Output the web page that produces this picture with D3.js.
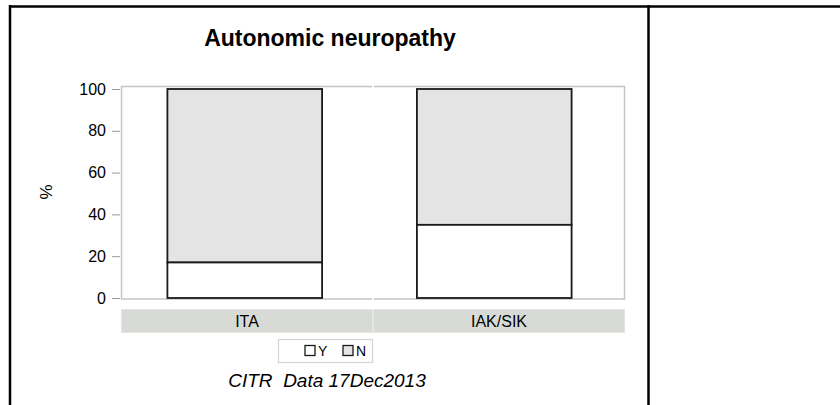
<!DOCTYPE html>
<html>
<head>
<meta charset="utf-8">
<script src="https://cdn.jsdelivr.net/npm/d3@7"></script>
<style>
  body { margin: 0; background: #fff; }
  text { font-family: "Liberation Sans", Arial, sans-serif; fill: #000; }
</style>
</head>
<body>
<div id="chart"></div>
<script>
// data
const groups = ["ITA", "IAK/SIK"];
const yesPct = [17, 35];
const noPct = [83, 65];
const responses = ["Y", "N"];
const yTicks = [0, 20, 40, 60, 80, 100];

const svgWidth = 840, svgHeight = 405;

const svg = d3.select("#chart")
    .append("svg")
    .attr("width", svgWidth)
    .attr("height", svgHeight);

// table lines round the chart
svg.append("line").attr("x1", 9).attr("x2", 840).attr("y1", 6.5).attr("y2", 6.5)
    .attr("stroke", "#000").attr("stroke-width", 2.5);
svg.append("line").attr("x1", 10).attr("x2", 10).attr("y1", 5).attr("y2", 405)
    .attr("stroke", "#000").attr("stroke-width", 2.5);
svg.append("line").attr("x1", 648.5).attr("x2", 648.5).attr("y1", 5).attr("y2", 405)
    .attr("stroke", "#000").attr("stroke-width", 2.5);

svg.append("text")
    .attr("x", 330).attr("y", 46)
    .attr("text-anchor", "middle")
    .attr("font-size", 23)
    .attr("font-weight", "bold")
    .text("Autonomic neuropathy");

const plotLeft = 121, plotRight = 625, plotTop = 86, plotBottom = 299;

const panel = d3.scaleBand().domain(groups).range([plotLeft, plotRight]);
const x = d3.scaleBand().domain(groups).range([120, 619])
    .paddingInner(0.38).paddingOuter(0.19);
const y = d3.scaleLinear().domain([0, 100]).range([298, 89]);

// panel frame: outer edges only, a small break between the panels
const frame = svg.append("g")
    .attr("fill", "none")
    .attr("stroke", "#c4c4c4")
    .attr("stroke-width", 1.5);
frame.append("line").attr("x1", plotLeft + 0.5).attr("x2", plotLeft + 0.5)
    .attr("y1", plotTop).attr("y2", plotBottom + 0.5);
frame.append("line").attr("x1", plotRight - 0.5).attr("x2", plotRight - 0.5)
    .attr("y1", plotTop).attr("y2", plotBottom + 0.5);
groups.forEach(g => {
  const x0 = panel(g) + (g === groups[0] ? 0 : 1);
  const x1 = panel(g) + panel.bandwidth() - (g === groups[0] ? 1 : 0);
  frame.append("line").attr("x1", x0).attr("x2", x1)
      .attr("y1", plotTop + 0.5).attr("y2", plotTop + 0.5);
  frame.append("line").attr("x1", x0).attr("x2", x1)
      .attr("y1", plotBottom).attr("y2", plotBottom);
});

// y axis
const yAxis = svg.append("g")
    .attr("transform", `translate(120,0)`)
    .call(d3.axisLeft(y).tickValues(yTicks).tickSize(8).tickPadding(6));
yAxis.select(".domain").remove();
yAxis.selectAll(".tick line").attr("stroke", "#9a9a9a");
yAxis.selectAll(".tick text")
    .attr("font-size", 16)
    .attr("font-family", "Liberation Sans, Arial, sans-serif")
    .attr("fill", "#000");

svg.append("text")
    .attr("transform", "translate(52,192) rotate(-90)")
    .attr("text-anchor", "middle")
    .attr("font-size", 17)
    .text("%");

// stacked bars: Y at bottom, N on top
const stack = groups.map((g, i) => ({ g: g, y: yesPct[i], n: noPct[i] }));

svg.selectAll(".barN")
    .data(stack)
    .join("rect")
    .attr("class", "barN")
    .attr("x", d => x(d.g))
    .attr("y", d => y(d.y + d.n))
    .attr("width", x.bandwidth())
    .attr("height", d => y(d.y) - y(d.y + d.n))
    .attr("fill", "#e4e4e4")
    .attr("stroke", "#1a1a1a")
    .attr("stroke-width", 1.8);

svg.selectAll(".barY")
    .data(stack)
    .join("rect")
    .attr("class", "barY")
    .attr("x", d => x(d.g))
    .attr("y", d => y(d.y))
    .attr("width", x.bandwidth())
    .attr("height", d => y(0) - y(d.y))
    .attr("fill", "#fff")
    .attr("stroke", "#1a1a1a")
    .attr("stroke-width", 1.8);

// strip headers
svg.selectAll(".strip")
    .data(groups)
    .join("rect")
    .attr("class", "strip")
    .attr("x", d => panel(d) + 0.5)
    .attr("y", 309.5)
    .attr("width", panel.bandwidth() - 1)
    .attr("height", 23)
    .attr("fill", "#d8dbd5")
    .attr("stroke", "#e4e6e2")
    .attr("stroke-width", 1);

svg.selectAll(".stripLabel")
    .data(groups)
    .join("text")
    .attr("class", "stripLabel")
    .attr("x", d => panel(d) + panel.bandwidth() / 2)
    .attr("y", 327)
    .attr("text-anchor", "middle")
    .attr("font-size", 16)
    .text(d => d);

// legend
const legend = svg.append("g");
legend.append("rect")
    .attr("x", 278.5).attr("y", 339.5)
    .attr("width", 94).attr("height", 23)
    .attr("fill", "#fff")
    .attr("stroke", "#d4d4d4")
    .attr("stroke-width", 1.2);

const legendFill = ["#fff", "#e4e4e4"];
const legendX = d3.scalePoint().domain(responses).range([305, 343]);

legend.selectAll(".key")
    .data(responses)
    .join("rect")
    .attr("class", "key")
    .attr("x", d => legendX(d))
    .attr("y", 345.5)
    .attr("width", 10)
    .attr("height", 10)
    .attr("fill", (d, i) => legendFill[i])
    .attr("stroke", "#1a1a1a")
    .attr("stroke-width", 1.3);

legend.selectAll(".keyLabel")
    .data(responses)
    .join("text")
    .attr("class", "keyLabel")
    .attr("x", d => legendX(d) + 13)
    .attr("y", 356)
    .attr("font-size", 14)
    .text(d => d);

svg.append("text")
    .attr("x", 327).attr("y", 387)
    .attr("text-anchor", "middle")
    .attr("font-size", 19)
    .attr("font-style", "italic")
    .style("white-space", "pre")
    .text("CITR  Data 17Dec2013");
</script>
</body>
</html>
